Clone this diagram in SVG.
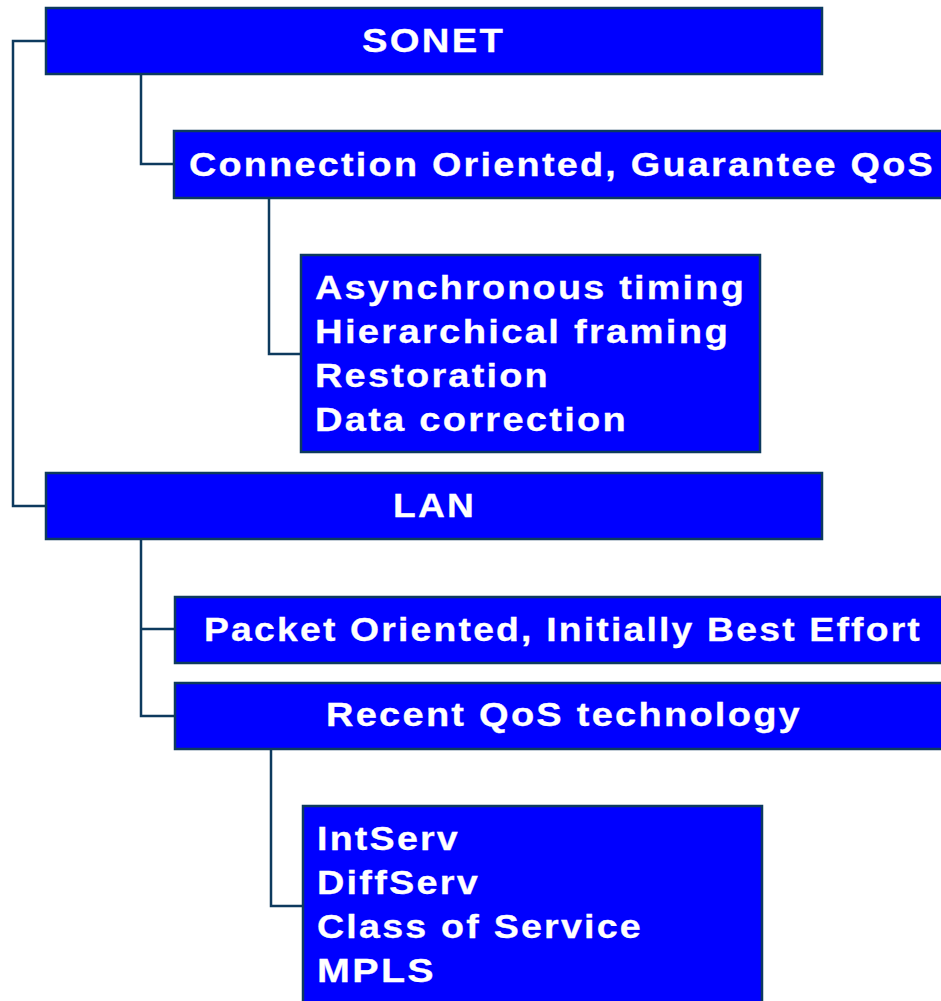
<svg xmlns="http://www.w3.org/2000/svg" width="941" height="1001" viewBox="0 0 941 1001">
  <style>
    .box { fill: #0000ff; stroke: #0d3a5e; stroke-width: 2.5; }
    .wire { fill: none; stroke: #0d3a5e; stroke-width: 2.5; }
    .t { font-family: "Liberation Sans", Arial, sans-serif; font-weight: bold; font-size: 34px; letter-spacing: 2px; fill: #ffffff; stroke: #ffffff; stroke-width: 0.3; }
  </style>
  <rect width="941" height="1001" fill="#ffffff"/>

  <!-- tree connectors -->
  <g id="connectors">
    <path class="wire" d="M46 41 H13 V506 H46"/>
    <path class="wire" d="M141 74 V164 H174"/>
    <path class="wire" d="M269 198 V354 H301"/>
    <path class="wire" d="M141 539 V716 H175 M141 629 H175"/>
    <path class="wire" d="M271 749 V906 H303"/>
  </g>

  <g id="sonet">
    <rect class="box" x="46" y="8" width="776" height="66"/>
    <text class="t" x="362" y="52" textLength="143" lengthAdjust="spacingAndGlyphs">SONET</text>
  </g>

  <g id="connection-oriented">
    <rect class="box" x="174" y="131" width="780" height="67"/>
    <text class="t" x="189" y="176" textLength="746" lengthAdjust="spacingAndGlyphs">Connection Oriented, Guarantee QoS</text>
  </g>

  <g id="sonet-features">
    <rect class="box" x="301" y="255" width="459" height="197"/>
    <text class="t" x="315" y="299" textLength="431" lengthAdjust="spacingAndGlyphs">Asynchronous timing</text>
    <text class="t" x="315" y="343" textLength="415" lengthAdjust="spacingAndGlyphs">Hierarchical framing</text>
    <text class="t" x="315" y="387" textLength="235" lengthAdjust="spacingAndGlyphs">Restoration</text>
    <text class="t" x="315" y="431" textLength="313" lengthAdjust="spacingAndGlyphs">Data correction</text>
  </g>

  <g id="lan">
    <rect class="box" x="46" y="473" width="776" height="66"/>
    <text class="t" x="393" y="517" textLength="83" lengthAdjust="spacingAndGlyphs">LAN</text>
  </g>

  <g id="packet-oriented">
    <rect class="box" x="175" y="597" width="780" height="66"/>
    <text class="t" x="204" y="641" textLength="718" lengthAdjust="spacingAndGlyphs">Packet Oriented, Initially Best Effort</text>
  </g>

  <g id="recent-qos">
    <rect class="box" x="175" y="683" width="780" height="66"/>
    <text class="t" x="326" y="726" textLength="476" lengthAdjust="spacingAndGlyphs">Recent QoS technology</text>
  </g>

  <g id="qos-technologies">
    <rect class="box" x="303" y="806" width="459" height="210"/>
    <text class="t" x="317" y="850" textLength="143" lengthAdjust="spacingAndGlyphs">IntServ</text>
    <text class="t" x="317" y="894" textLength="163" lengthAdjust="spacingAndGlyphs">DiffServ</text>
    <text class="t" x="317" y="938" textLength="326" lengthAdjust="spacingAndGlyphs">Class of Service</text>
    <text class="t" x="317" y="982" textLength="119" lengthAdjust="spacingAndGlyphs">MPLS</text>
  </g>
</svg>
